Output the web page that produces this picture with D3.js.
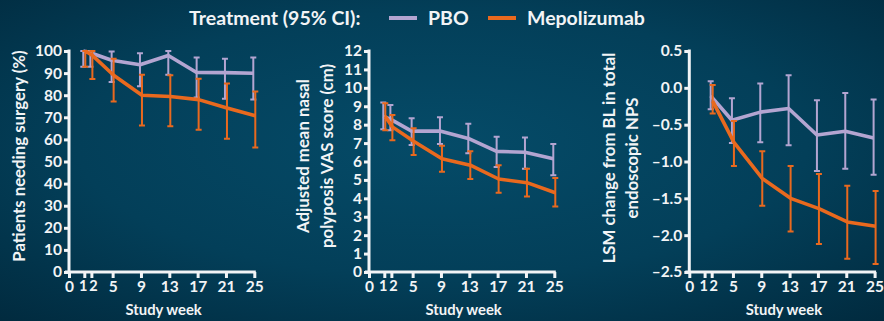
<!DOCTYPE html>
<html>
<head>
<meta charset="utf-8">
<script src="https://cdn.jsdelivr.net/npm/d3@7"></script>
<style>
  html, body { margin: 0; padding: 0; background: #023c55; }
  svg { display: block; }
  text { font-family: Lato, "Open Sans", sans-serif; font-weight: 700; }
</style>
</head>
<body>
<svg id="chart" width="884" height="321"></svg>
<script>
// Study weeks and x-axis tick labels
const xTicks = [0, 1, 2, 5, 9, 13, 17, 21, 25];
const weeksA = [1, 2, 5, 9, 13, 17, 21, 25];
const weeksNps = [2, 5, 9, 13, 17, 21, 25];

// Panel 1: patients needing surgery (%)
const surgeryPbo    = [100, 99.2, 95.8, 93.8, 98.0, 90.3, 90.2, 89.9];
const surgeryPboLo  = [92.9, 92.9, 86.0, 84.0, 89.3, 79.0, 78.4, 78.0];
const surgeryPboHi  = [100, 100, 99.8, 99.0, 100, 97.1, 96.5, 97.1];
const surgeryMepo   = [100, 98.0, 89.0, 80.0, 79.4, 78.0, 74.2, 70.7];
const surgeryMepoLo = [92.9, 87.3, 77.2, 66.3, 65.9, 64.4, 60.3, 56.3];
const surgeryMepoHi = [100, 100, 96.5, 89.3, 89.0, 87.5, 85.3, 81.7];
const surgeryTicks  = [0, 10, 20, 30, 40, 50, 60, 70, 80, 90, 100];

// Panel 2: adjusted mean nasal polyposis VAS score (cm)
const vasPbo    = [8.45, 8.3, 7.65, 7.65, 7.25, 6.55, 6.5, 6.15];
const vasPboLo  = [7.75, 7.7, 6.9, 6.95, 6.45, 5.7, 5.6, 5.25];
const vasPboHi  = [9.2, 9.07, 8.35, 8.4, 8.05, 7.35, 7.3, 6.95];
const vasMepo   = [8.45, 7.88, 7.1, 6.15, 5.8, 5.05, 4.85, 4.3];
const vasMepoLo = [7.7, 7.15, 6.35, 5.45, 5.05, 4.3, 4.1, 3.55];
const vasMepoHi = [9.16, 8.52, 7.8, 6.85, 6.55, 5.8, 5.6, 5.1];
const vasTicks  = [0, 1, 2, 3, 4, 5, 6, 7, 8, 9, 10, 11, 12];

// Panel 3: LSM change from baseline in total endoscopic NPS
const npsPbo    = [-0.11, -0.44, -0.33, -0.28, -0.64, -0.59, -0.68];
const npsPboLo  = [-0.29, -0.75, -0.74, -0.78, -1.13, -1.10, -1.18];
const npsPboHi  = [0.09, -0.14, 0.06, 0.17, -0.17, -0.07, -0.16];
const npsMepo   = [-0.18, -0.74, -1.23, -1.50, -1.64, -1.82, -1.88];
const npsMepoLo = [-0.35, -1.06, -1.60, -1.95, -2.12, -2.32, -2.39];
const npsMepoHi = [0.04, -0.45, -0.86, -1.06, -1.17, -1.33, -1.40];
const npsTicks  = [-2.5, -2.0, -1.5, -1.0, -0.5, 0.0, 0.5];

const legendTitle = "Treatment (95% CI):";
const seriesNames = ["PBO", "Mepolizumab"];

const COL_PBO = "#b3a5d1";
const COL_MEPO = "#e9691e";
const INK = "#f2f4f6";

const svg = d3.select("#chart");

// backdrop
const defs = svg.append("defs");
const grad = defs.append("radialGradient").attr("id", "bg")
  .attr("cx", "50%").attr("cy", "45%").attr("r", "75%");
grad.append("stop").attr("offset", "0%").attr("stop-color", "#054b68");
grad.append("stop").attr("offset", "55%").attr("stop-color", "#033f59");
grad.append("stop").attr("offset", "100%").attr("stop-color", "#012a3e");
svg.append("rect").attr("width", 884).attr("height", 321).attr("fill", "url(#bg)");

// legend
const lg = svg.append("g");
lg.append("text").attr("x", 189).attr("y", 25).attr("font-size", 19.5)
  .attr("fill", INK).text(legendTitle);
const legendItems = [
  { name: seriesNames[0], color: COL_PBO, x: 389 },
  { name: seriesNames[1], color: COL_MEPO, x: 488 }
];
legendItems.forEach(it => {
  lg.append("line").attr("x1", it.x).attr("x2", it.x + 28)
    .attr("y1", 18).attr("y2", 18)
    .attr("stroke", it.color).attr("stroke-width", 4);
  lg.append("text").attr("x", it.x + 39).attr("y", 25).attr("font-size", 19.5)
    .attr("fill", INK).text(it.name);
});

const fmtNps = d => (d < 0 ? "\u2013" : "") + Math.abs(d).toFixed(1);

const panels = [
  {
    x0: 69, weeks: weeksA, domain: [0, 100], ticks: surgeryTicks, fmt: d => d,
    title: ["Patients needing surgery (%)"], titleX: [25], titleY: 156,
    pbo: [surgeryPbo, surgeryPboLo, surgeryPboHi],
    mepo: [surgeryMepo, surgeryMepoLo, surgeryMepoHi]
  },
  {
    x0: 369, weeks: weeksA, domain: [0, 12], ticks: vasTicks, fmt: d => d,
    title: ["Adjusted mean nasal", "polyposis VAS score (cm)"], titleX: [309, 333], titleY: 156,
    pbo: [vasPbo, vasPboLo, vasPboHi],
    mepo: [vasMepo, vasMepoLo, vasMepoHi]
  },
  {
    x0: 689.3, weeks: weeksNps, domain: [-2.5, 0.5], ticks: npsTicks, fmt: fmtNps,
    title: ["LSM change from BL in total", "endoscopic NPS"], titleX: [615, 638], titleY: 158,
    pbo: [npsPbo, npsPboLo, npsPboHi],
    mepo: [npsMepo, npsMepoLo, npsMepoHi]
  }
];

const yBottom = 272, yTop = 51;

panels.forEach(p => {
  const g = svg.append("g");
  // week 0 sits at the axis corner; weeks 1..25 are evenly spaced
  const x = d3.scaleLinear().domain([0, 1, 25]).range([p.x0, p.x0 + 15.3, p.x0 + 185.3]);
  const y = d3.scaleLinear().domain(p.domain).range([yBottom, yTop]);

  // axes
  const xa = g.append("g").attr("transform", `translate(0,${yBottom})`)
    .call(d3.axisBottom(x).tickValues(xTicks).tickSize(6).tickSizeOuter(0).tickPadding(3));
  const ya = g.append("g").attr("transform", `translate(${p.x0},0)`)
    .call(d3.axisLeft(y).tickValues(p.ticks).tickFormat(p.fmt).tickSize(5).tickSizeOuter(0).tickPadding(2));
  [xa, ya].forEach(a => {
    a.select(".domain").attr("stroke", INK).attr("stroke-width", 3);
    a.selectAll(".tick line").attr("stroke", INK).attr("stroke-width", 3);
    a.selectAll(".tick text").attr("fill", INK).attr("font-size", 15.5)
      .attr("font-family", "Lato, sans-serif").attr("font-weight", 700);
  });
  // the week 1 and week 2 labels sit close together; nudge them apart
  xa.selectAll(".tick text").attr("dx", d => d === 1 ? -1.5 : d === 2 ? 1.5 : 0)
    .attr("font-size", d => (d === 1 || d === 2) ? 14.5 : 15.5);
  xa.select(".domain").attr("d", `M${p.x0 - 4},0H${x(25) + 1.5}`);
  ya.select(".domain").attr("d", `M0,${yBottom}V${yTop - 1.5}`);

  // axis titles
  p.title.forEach((t, i) => {
    g.append("text")
      .attr("transform", `translate(${p.titleX[i]},${p.titleY}) rotate(-90)`)
      .attr("text-anchor", "middle").attr("font-size", 16.8)
      .attr("fill", INK).text(t);
  });
  g.append("text").attr("x", (p.x0 + x(25)) / 2 + 2).attr("y", 315)
    .attr("text-anchor", "middle").attr("font-size", 14.8)
    .attr("fill", INK).text("Study week");

  // series
  const series = [
    { vals: p.pbo, color: COL_PBO, dx: -1 },
    { vals: p.mepo, color: COL_MEPO, dx: 1 }
  ];
  series.forEach(s => {
    const [mid, lo, hi] = s.vals;
    const pts = p.weeks.map((w, i) => ({ w, m: mid[i], lo: lo[i], hi: hi[i] }));
    g.append("path").datum(pts)
      .attr("fill", "none").attr("stroke", s.color).attr("stroke-width", 3.6)
      .attr("stroke-linejoin", "round")
      .attr("d", d3.line().x(d => x(d.w) + s.dx).y(d => y(d.m)));
    const eb = g.append("g").attr("stroke", s.color).attr("stroke-width", 2).attr("fill", "none");
    eb.selectAll("path.bar").data(pts).join("path").attr("class", "bar")
      .attr("d", d => {
        const cx = x(d.w) + s.dx, cw = 3;
        return `M${cx},${y(d.hi)}V${y(d.lo)}M${cx - cw},${y(d.hi)}H${cx + cw}M${cx - cw},${y(d.lo)}H${cx + cw}`;
      });
  });
});
</script>
</body>
</html>
